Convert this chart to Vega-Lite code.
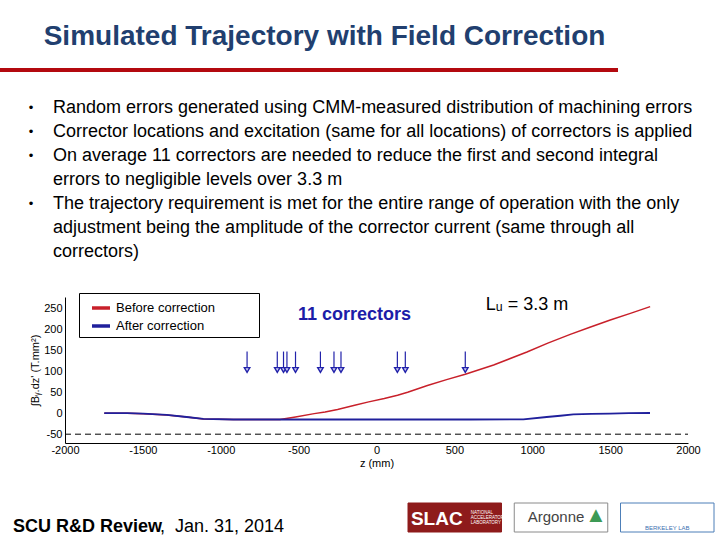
{
  "$schema": "https://vega.github.io/schema/vega-lite/v6.json",
  "padding": 0,
  "bounds": "flush",
  "spacing": 0,
  "background": "white",
  "config": {"view": {"stroke": null}, "font": "Liberation Sans", "axis": {"labelOverlap": false}},
  "datasets": {
    "bullets": [
      {"line": 1, "kind": "bullet", "text": "•"},
      {"line": 1, "kind": "text", "text": "Random errors generated using CMM-measured distribution of machining errors"},
      {"line": 2, "kind": "bullet", "text": "•"},
      {"line": 2, "kind": "text", "text": "Corrector locations and excitation (same for all locations) of correctors is applied"},
      {"line": 3, "kind": "bullet", "text": "•"},
      {"line": 3, "kind": "text", "text": "On average 11 correctors are needed to reduce the first and second integral"},
      {"line": 4, "kind": "text", "text": "errors to negligible levels over 3.3 m"},
      {"line": 5, "kind": "bullet", "text": "•"},
      {"line": 5, "kind": "text", "text": "The trajectory requirement is met for the entire range of operation with the only"},
      {"line": 6, "kind": "text", "text": "adjustment being the amplitude of the corrector current (same through all"},
      {"line": 7, "kind": "text", "text": "correctors)"}
    ],
    "trajectory": [
      {"series": "Before correction", "z": -1748, "v": 0},
      {"series": "Before correction", "z": -1600, "v": 0},
      {"series": "Before correction", "z": -1497, "v": -1},
      {"series": "Before correction", "z": -1347, "v": -4},
      {"series": "Before correction", "z": -1219, "v": -9},
      {"series": "Before correction", "z": -1112, "v": -13.5},
      {"series": "Before correction", "z": -919, "v": -15},
      {"series": "Before correction", "z": -620, "v": -15},
      {"series": "Before correction", "z": -520, "v": -9},
      {"series": "Before correction", "z": -400, "v": -1},
      {"series": "Before correction", "z": -330, "v": 3},
      {"series": "Before correction", "z": -250, "v": 9},
      {"series": "Before correction", "z": -140, "v": 19},
      {"series": "Before correction", "z": -50, "v": 27},
      {"series": "Before correction", "z": 50, "v": 35},
      {"series": "Before correction", "z": 135, "v": 43},
      {"series": "Before correction", "z": 200, "v": 50},
      {"series": "Before correction", "z": 327, "v": 66},
      {"series": "Before correction", "z": 450, "v": 80},
      {"series": "Before correction", "z": 570, "v": 93},
      {"series": "Before correction", "z": 752, "v": 115},
      {"series": "Before correction", "z": 966, "v": 146},
      {"series": "Before correction", "z": 1100, "v": 167},
      {"series": "Before correction", "z": 1244, "v": 188},
      {"series": "Before correction", "z": 1370, "v": 205},
      {"series": "Before correction", "z": 1501, "v": 222},
      {"series": "Before correction", "z": 1630, "v": 238},
      {"series": "Before correction", "z": 1757, "v": 254},
      {"series": "After correction", "z": -1748, "v": 0},
      {"series": "After correction", "z": -1600, "v": 0},
      {"series": "After correction", "z": -1497, "v": -1},
      {"series": "After correction", "z": -1347, "v": -4},
      {"series": "After correction", "z": -1219, "v": -9},
      {"series": "After correction", "z": -1112, "v": -13.5},
      {"series": "After correction", "z": -919, "v": -15},
      {"series": "After correction", "z": -600, "v": -15},
      {"series": "After correction", "z": -300, "v": -15},
      {"series": "After correction", "z": 0, "v": -15},
      {"series": "After correction", "z": 300, "v": -15},
      {"series": "After correction", "z": 600, "v": -15},
      {"series": "After correction", "z": 943, "v": -14.5},
      {"series": "After correction", "z": 1093, "v": -9},
      {"series": "After correction", "z": 1180, "v": -6},
      {"series": "After correction", "z": 1264, "v": -3},
      {"series": "After correction", "z": 1380, "v": -1.5},
      {"series": "After correction", "z": 1499, "v": -1},
      {"series": "After correction", "z": 1620, "v": 0},
      {"series": "After correction", "z": 1756, "v": 0.5}
    ],
    "correctors": [
      {"z": -831}, {"z": -637}, {"z": -597}, {"z": -575}, {"z": -520}, {"z": -360},
      {"z": -273}, {"z": -228}, {"z": 134}, {"z": 185}, {"z": 570}
    ],
    "notes": [
      {"note": "11 correctors", "z": -141, "v": 234},
      {"note": "Lᵤ = 3.3 m", "z": 966, "v": 259}
    ]
  },
  "vconcat": [
    {
      "width": 649,
      "height": 68,
      "data": {"values": [{"t": "Simulated Trajectory with Field Correction"}]},
      "mark": {"type": "text", "fontSize": 28, "fontWeight": "bold", "color": "#213f6f", "align": "center", "baseline": "middle", "dy": 3, "font": "Liberation Sans"},
      "encoding": {"text": {"field": "t"}}
    },
    {
      "width": 618,
      "height": 4,
      "view": {"fill": "#b3090f", "stroke": null},
      "data": {"values": []},
      "mark": "point",
      "encoding": {}
    },
    {
      "width": 720,
      "height": 225,
      "data": {"name": "bullets"},
      "layer": [
        {
          "transform": [{"filter": "datum.kind === 'bullet'"}],
          "mark": {"type": "text", "fontSize": 13, "align": "center", "baseline": "middle", "color": "black", "font": "Liberation Sans"},
          "encoding": {
            "x": {"field": "kind", "type": "nominal", "scale": {"type": "point", "domain": ["bullet", "text"], "range": [31, 53], "padding": 0}, "axis": null},
            "y": {"field": "line", "type": "ordinal", "scale": {"type": "point", "domain": [1, 2, 3, 4, 5, 6, 7], "range": [36, 180], "padding": 0}, "axis": null},
            "text": {"field": "text"}
          }
        },
        {
          "transform": [{"filter": "datum.kind === 'text'"}],
          "mark": {"type": "text", "fontSize": 18, "align": "left", "baseline": "middle", "color": "black", "font": "Liberation Sans"},
          "encoding": {
            "x": {"field": "kind", "type": "nominal", "scale": {"type": "point", "domain": ["bullet", "text"], "range": [31, 53], "padding": 0}, "axis": null},
            "y": {"field": "line", "type": "ordinal", "scale": {"type": "point", "domain": [1, 2, 3, 4, 5, 6, 7], "range": [36, 180], "padding": 0}, "axis": null},
            "text": {"field": "text"}
          }
        }
      ]
    },
    {
      "width": 688,
      "height": 146,
      "layer": [
        {
          "data": {"name": "trajectory"},
          "transform": [{"filter": "datum.series === 'Before correction'"}],
          "mark": {"type": "line", "strokeWidth": 1.5},
          "encoding": {
            "x": {
              "field": "z", "type": "quantitative",
              "scale": {"domain": [-2000, 2000], "range": [65, 688], "nice": false, "zero": false},
              "axis": {
                "title": "z (mm)", "values": [-2000, -1500, -1000, -500, 0, 500, 1000, 1500, 2000], "tickCount": 20,
                "ticks": false, "grid": false, "domainColor": "black", "domainWidth": 1,
                "labelFontSize": 11, "labelColor": "black", "labelFont": "Liberation Sans",
                "labelPadding": 1, "labelFlush": false, "labelOverlap": false,
                "labelExpr": "'' + datum.value",
                "titleFontSize": 11, "titleFontWeight": "normal", "titleColor": "black",
                "titleFont": "Liberation Sans", "titlePadding": 2
              }
            },
            "y": {
              "field": "v", "type": "quantitative",
              "scale": {"domain": [-71, 277], "nice": false, "zero": false},
              "axis": {
                "title": "∫Bᵧ.dz' (T.mm²)", "values": [-50, 0, 50, 100, 150, 200, 250], "tickCount": 10,
                "offset": -65, "ticks": false, "grid": false, "domainColor": "black", "domainWidth": 1,
                "labelFontSize": 11, "labelColor": "black", "labelFont": "Liberation Sans",
                "labelPadding": 3, "labelFlush": false, "labelOverlap": false,
                "labelExpr": "'' + datum.value",
                "titleFontSize": 11, "titleFontWeight": "normal", "titleColor": "black",
                "titleFont": "Liberation Sans", "titlePadding": 3
              }
            },
            "color": {
              "field": "series", "type": "nominal",
              "scale": {"domain": ["Before correction", "After correction"], "range": ["#c8202a", "#20209c"]},
              "legend": {
                "title": null, "orient": "none", "legendX": 79, "legendY": 293,
                "symbolType": "stroke", "symbolSize": 324, "symbolStrokeWidth": 3.5, "symbolOffset": 7,
                "labelFontSize": 13, "labelFont": "Liberation Sans", "labelColor": "black",
                "labelOffset": 4, "padding": 4, "rowPadding": 0, "labelLimit": 400,
                "strokeColor": "black", "fillColor": "white", "cornerRadius": 0,
                "labelExpr": "datum.label + '\u2800\u2800\u2800\u2800'"
              }
            }
          }
        },
        {
          "data": {"values": [{"level": -50}]},
          "mark": {"type": "rule", "strokeDash": [6, 4], "strokeWidth": 1, "color": "black"},
          "encoding": {
            "x": {"datum": -2000, "type": "quantitative"},
            "x2": {"datum": 2000},
            "y": {"field": "level", "type": "quantitative"}
          }
        },
        {
          "data": {"name": "trajectory"},
          "transform": [{"filter": "datum.series === 'After correction'"}],
          "mark": {"type": "line", "strokeWidth": 1.8},
          "encoding": {
            "x": {"field": "z", "type": "quantitative"},
            "y": {"field": "v", "type": "quantitative"},
            "color": {"field": "series", "type": "nominal"}
          }
        },
        {
          "data": {"name": "correctors"},
          "mark": {"type": "rule", "color": "#2222aa", "strokeWidth": 1.2},
          "encoding": {
            "x": {"field": "z", "type": "quantitative"},
            "y": {"datum": 147, "type": "quantitative"},
            "y2": {"datum": 108}
          }
        },
        {
          "data": {"name": "correctors"},
          "mark": {"type": "point", "shape": "triangle-down", "size": 30, "filled": true, "fill": "#d0d0f5", "stroke": "#2222aa", "strokeWidth": 1.4, "opacity": 1},
          "encoding": {
            "x": {"field": "z", "type": "quantitative"},
            "y": {"datum": 103, "type": "quantitative"}
          }
        },
        {
          "data": {"name": "notes"},
          "transform": [{"filter": "datum.note === '11 correctors'"}],
          "mark": {"type": "text", "fontSize": 18, "fontWeight": "bold", "color": "#1c1ca8", "align": "center", "baseline": "middle", "font": "Liberation Sans"},
          "encoding": {
            "x": {"field": "z", "type": "quantitative"},
            "y": {"field": "v", "type": "quantitative"},
            "text": {"field": "note"}
          }
        },
        {
          "data": {"name": "notes"},
          "transform": [{"filter": "datum.note !== '11 correctors'"}],
          "mark": {"type": "text", "fontSize": 18, "color": "black", "align": "center", "baseline": "middle", "font": "Liberation Sans"},
          "encoding": {
            "x": {"field": "z", "type": "quantitative"},
            "y": {"field": "v", "type": "quantitative"},
            "text": {"field": "note"}
          }
        }
      ]
    },
    {
      "width": 720,
      "height": 60,
      "data": {"values": []},
      "mark": "point",
      "encoding": {}
    },
    {
      "width": 720,
      "height": 29,
      "layer": [
        {
          "data": {"values": [{"part": "lead", "label": "SCU R&D Review"}]},
          "mark": {"type": "text", "fontSize": 18, "fontWeight": "bold", "align": "left", "baseline": "top", "color": "black", "font": "Liberation Sans"},
          "encoding": {
            "x": {"field": "part", "type": "nominal", "scale": {"type": "point", "domain": ["lead", "date"], "range": [13, 160], "padding": 0}, "axis": null},
            "text": {"field": "label"}
          }
        },
        {
          "data": {"values": [{"part": "date", "label": ",\u00a0 Jan. 31, 2014"}]},
          "mark": {"type": "text", "fontSize": 18, "align": "left", "baseline": "top", "color": "black", "font": "Liberation Sans"},
          "encoding": {
            "x": {"field": "part", "type": "nominal", "scale": {"type": "point", "domain": ["lead", "date"], "range": [13, 160], "padding": 0}, "axis": null},
            "text": {"field": "label"}
          }
        },
        {
          "data": {"values": [{"logo": "SLAC"}, {"logo": "Argonne"}, {"logo": "Berkeley"}]},
          "mark": {"type": "rect", "strokeWidth": 1},
          "encoding": {
            "x": {"field": "logo", "type": "nominal", "scale": {"type": "band", "domain": ["SLAC", "Argonne", "Berkeley"], "range": [408, 714], "paddingInner": 0.12, "paddingOuter": 0}, "axis": null},
            "fill": {"field": "logo", "type": "nominal", "scale": {"domain": ["SLAC", "Argonne", "Berkeley"], "range": ["#8e1b1b", "#ffffff", "#ffffff"]}, "legend": null},
            "stroke": {"field": "logo", "type": "nominal", "scale": {"domain": ["SLAC", "Argonne", "Berkeley"], "range": ["#8e1b1b", "#8a8a8a", "#4d7fb8"]}, "legend": null}
          }
        },
        {
          "data": {"values": [{"logo": "SLAC", "label": "SLAC"}]},
          "mark": {"type": "text", "fontSize": 19, "fontWeight": "bold", "color": "white", "align": "center", "baseline": "middle", "dx": -18, "dy": 1, "font": "Liberation Sans"},
          "encoding": {
            "x": {"field": "logo", "type": "nominal", "scale": {"type": "band", "domain": ["SLAC", "Argonne", "Berkeley"], "range": [408, 714], "paddingInner": 0.12, "paddingOuter": 0}, "axis": null},
            "text": {"field": "label"}
          }
        },
        {
          "data": {"values": [{"logo": "SLAC", "label": "NATIONAL\nACCELERATOR\nLABORATORY"}]},
          "mark": {"type": "text", "fontSize": 4.5, "color": "white", "align": "left", "baseline": "middle", "dx": 16, "dy": -5, "lineBreak": "\n", "lineHeight": 5, "font": "Liberation Sans"},
          "encoding": {
            "x": {"field": "logo", "type": "nominal", "scale": {"type": "band", "domain": ["SLAC", "Argonne", "Berkeley"], "range": [408, 714], "paddingInner": 0.12, "paddingOuter": 0}, "axis": null},
            "text": {"field": "label"}
          }
        },
        {
          "data": {"values": [{"logo": "Argonne", "label": "Argonne"}]},
          "mark": {"type": "text", "fontSize": 15, "color": "#444444", "align": "center", "baseline": "middle", "dx": -5, "dy": -1, "font": "Liberation Sans"},
          "encoding": {
            "x": {"field": "logo", "type": "nominal", "scale": {"type": "band", "domain": ["SLAC", "Argonne", "Berkeley"], "range": [408, 714], "paddingInner": 0.12, "paddingOuter": 0}, "axis": null},
            "text": {"field": "label"}
          }
        },
        {
          "data": {"values": [{"logo": "Argonne", "label": "▲"}]},
          "mark": {"type": "text", "fontSize": 22, "color": "#3d9a55", "align": "center", "baseline": "middle", "dx": 35, "dy": -3},
          "encoding": {
            "x": {"field": "logo", "type": "nominal", "scale": {"type": "band", "domain": ["SLAC", "Argonne", "Berkeley"], "range": [408, 714], "paddingInner": 0.12, "paddingOuter": 0}, "axis": null},
            "text": {"field": "label"}
          }
        },
        {
          "data": {"values": [{"logo": "Berkeley", "label": "BERKELEY LAB"}]},
          "mark": {"type": "text", "fontSize": 6, "color": "#3b6fb0", "align": "center", "baseline": "middle", "dy": 10, "font": "Liberation Sans"},
          "encoding": {
            "x": {"field": "logo", "type": "nominal", "scale": {"type": "band", "domain": ["SLAC", "Argonne", "Berkeley"], "range": [408, 714], "paddingInner": 0.12, "paddingOuter": 0}, "axis": null},
            "text": {"field": "label"}
          }
        }
      ],
      "resolve": {"scale": {"x": "independent"}}
    }
  ]
}
